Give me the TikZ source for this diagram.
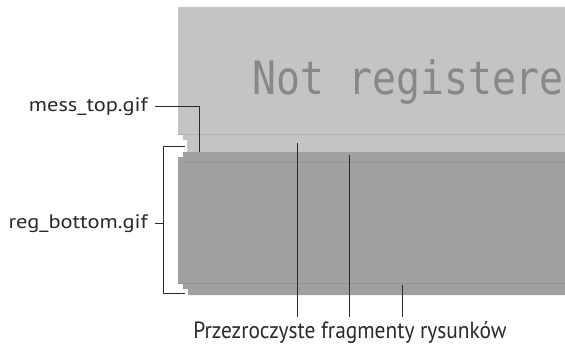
\documentclass[tikz,border=0pt]{standalone}
\usepackage{fontspec}
\newfontfamily\lblfont[FakeStretch=1.15]{PT Sans}
\newfontfamily\notefont[FakeStretch=0.91]{PT Sans}
\newfontfamily\pixfont{DejaVu Sans Mono}
\definecolor{shotlight}{HTML}{C4C4C4}
\definecolor{shotdark}{HTML}{A0A0A0}
\definecolor{shotseam}{HTML}{B2B2B2}
\definecolor{shotseamdk}{HTML}{959595}
\definecolor{wmark}{HTML}{888888}
\definecolor{leadcol}{HTML}{2A2A2A}
\tikzset{
  lbl/.style={font=\lblfont\fontsize{19.5}{19.5}\selectfont, text=leadcol, inner sep=0pt},
  leader/.style={draw=leadcol, line width=1pt}
}
\begin{document}
\begin{tikzpicture}[x=1pt,y=-1pt]
  \useasboundingbox[fill=white] (0,0) rectangle (565,345);
  % the two screenshot pieces
  \fill[shotlight] (178,7) -- (565,7) -- (565,152) -- (187,152) -- (187,140)
    -- (183,140) -- (183,134) -- (178,134) -- cycle;
  \fill[shotdark] (183,152) -- (565,152) -- (565,295) -- (188,295) -- (188,289)
    -- (183,289) -- (183,284) -- (178,284) -- (178,157) -- (183,157) -- cycle;
  \draw[shotseam, line width=1pt] (178,134) -- (565,134);
  \draw[shotseamdk, line width=0.8pt] (183,162) -- (565,162);
  \draw[shotseamdk, line width=0.8pt] (178,283) -- (565,283);
  \node[anchor=base west, inner sep=0pt, text=wmark] (wmark) at (252,95)
    {\scalebox{0.866}[1]{\pixfont\fontsize{46}{46}\selectfont Not registere}};
  % labels
  \node[lbl, anchor=base east] (messlbl) at (148,111) {mess\_top.gif};
  \node[lbl, anchor=base east] (reglbl) at (148,228) {reg\_bottom.gif};
  \node[lbl, font=\notefont\fontsize{23.5}{23.5}\selectfont, anchor=base] (note) at (350,338.5)
    {Przezroczyste fragmenty rysunków};
  \coordinate (messtip) at (199,152);
  \coordinate (regtop) at (185,146);
  \coordinate (regbot) at (185,293);
  \coordinate (regmid) at (163,223);
  \coordinate (tipa) at (297,143);
  \coordinate (tipb) at (349,155);
  \coordinate (tipc) at (402,285);
  \draw[leader] ([xshift=7pt]messlbl.east |- messlbl.center) -| (messtip);
  \draw[leader] (regtop) -- (regtop -| regmid) -- (regbot -| regmid) -- (regbot);
  \draw[leader] ([xshift=7pt]reglbl.east |- regmid) -- (regmid);
  \draw[leader, shorten >=4pt] (tipa) -- (tipa |- note.north);
  \draw[leader, shorten >=4pt] (tipb) -- (tipb |- note.north);
  \draw[leader, shorten >=4pt] (tipc) -- (tipc |- note.north);
\end{tikzpicture}
\end{document}
